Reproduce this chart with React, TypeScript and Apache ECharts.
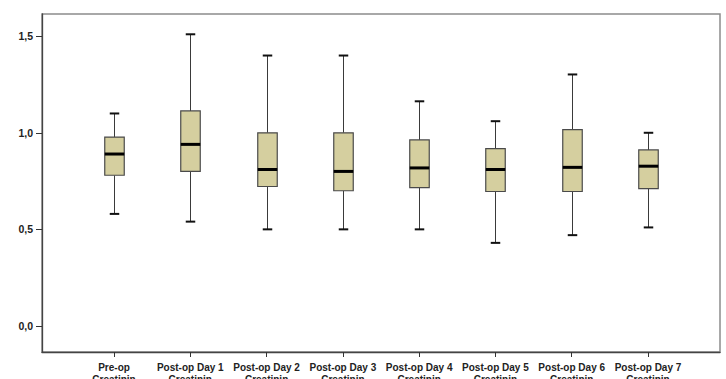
import React, { useEffect, useRef } from "react";
import * as echarts from "echarts";

const categories = [
  "Pre-op\nCreatinin",
  "Post-op Day 1\nCreatinin",
  "Post-op Day 2\nCreatinin",
  "Post-op Day 3\nCreatinin",
  "Post-op Day 4\nCreatinin",
  "Post-op Day 5\nCreatinin",
  "Post-op Day 6\nCreatinin",
  "Post-op Day 7\nCreatinin",
];
const lowWhisker = [0.58, 0.54, 0.5, 0.5, 0.5, 0.43, 0.47, 0.51];
const q1 = [0.78, 0.8, 0.722, 0.7, 0.716, 0.696, 0.696, 0.711];
const median = [0.89, 0.94, 0.81, 0.8, 0.818, 0.81, 0.821, 0.827];
const q3 = [0.978, 1.113, 1.0, 1.0, 0.963, 0.918, 1.016, 0.911];
const highWhisker = [1.1, 1.51, 1.4, 1.4, 1.163, 1.06, 1.302, 1.0];
const yTickValues = [0, 0.5, 1.0, 1.5];
const yRange = { min: -0.135, max: 1.615 };
const xRange = { min: -0.944, max: 7.944 };

const FONT = "'Liberation Sans', Arial, sans-serif";

export default function App() {
  const ref = useRef<HTMLDivElement>(null);
  useEffect(() => {
    if (!ref.current) return;
    const chart = echarts.init(ref.current, null, { renderer: "svg" });
    const data = categories.map((_, i) => [
      i,
      lowWhisker[i],
      q1[i],
      median[i],
      q3[i],
      highWhisker[i],
    ]);
    const catIdx = categories.map((_, i) => i);
    const boxW = 19.5;
    const capW = 9.5;
    chart.setOption({
      animation: false,
      backgroundColor: "#ffffff",
      grid: {
        left: 42,
        right: 6,
        top: 14,
        bottom: 27,
        containLabel: false,
        outerBoundsMode: "none",
        show: true,
        borderColor: "#8c8c8c",
        borderWidth: 1.5,
        backgroundColor: "transparent",
      },
      xAxis: {
        type: "value",
        min: xRange.min,
        max: xRange.max,
        axisLine: {
          show: true,
          onZero: false,
          lineStyle: { color: "#444", width: 1.3 },
        },
        axisTick: {
          show: true,
          length: 5,
          customValues: catIdx,
          lineStyle: { color: "#333", width: 1 },
        },
        axisLabel: {
          customValues: catIdx,
          margin: 9,
          fontFamily: FONT,
          fontWeight: "bold",
          fontSize: 10,
          lineHeight: 12,
          color: "#222",
          formatter: (v: number) => categories[Math.round(v)] ?? "",
        },
        splitLine: { show: false },
      },
      yAxis: {
        type: "value",
        min: yRange.min,
        max: yRange.max,
        axisLine: {
          show: true,
          onZero: false,
          lineStyle: { color: "#444", width: 1.3 },
        },
        axisTick: {
          show: true,
          length: 6,
          customValues: yTickValues,
          lineStyle: { color: "#333", width: 1 },
        },
        axisLabel: {
          customValues: yTickValues,
          margin: 9,
          fontFamily: FONT,
          fontWeight: "bold",
          fontSize: 10.5,
          color: "#222",
          formatter: (v: number) => v.toFixed(1).replace(".", ","),
        },
        splitLine: { show: false },
      },
      series: [
        {
          type: "custom",
          data,
          encode: { x: 0, y: [1, 2, 3, 4, 5] },
          renderItem: (params: any, api: any) => {
            const x = api.value(0);
            const pLow = api.coord([x, api.value(1)]);
            const pQ1 = api.coord([x, api.value(2)]);
            const pMed = api.coord([x, api.value(3)]);
            const pQ3 = api.coord([x, api.value(4)]);
            const pHigh = api.coord([x, api.value(5)]);
            const cx = Math.round(pLow[0]) + 0.5;
            const whisker = { stroke: "#3a3a3a", lineWidth: 1 };
            const cap = { stroke: "#111", lineWidth: 2 };
            return {
              type: "group",
              children: [
                {
                  type: "line",
                  shape: { x1: cx, y1: pLow[1], x2: cx, y2: pQ1[1] },
                  style: whisker,
                },
                {
                  type: "line",
                  shape: { x1: cx, y1: pQ3[1], x2: cx, y2: pHigh[1] },
                  style: whisker,
                },
                {
                  type: "line",
                  shape: {
                    x1: cx - capW / 2,
                    y1: pLow[1],
                    x2: cx + capW / 2,
                    y2: pLow[1],
                  },
                  style: cap,
                },
                {
                  type: "line",
                  shape: {
                    x1: cx - capW / 2,
                    y1: pHigh[1],
                    x2: cx + capW / 2,
                    y2: pHigh[1],
                  },
                  style: cap,
                },
                {
                  type: "rect",
                  shape: {
                    x: cx - boxW / 2,
                    y: pQ3[1],
                    width: boxW,
                    height: pQ1[1] - pQ3[1],
                  },
                  style: { fill: "#d5cf9f", stroke: "#4a4a4a", lineWidth: 1.2 },
                },
                {
                  type: "line",
                  shape: {
                    x1: cx - boxW / 2,
                    y1: pMed[1],
                    x2: cx + boxW / 2,
                    y2: pMed[1],
                  },
                  style: { stroke: "#000", lineWidth: 3 },
                },
              ],
            };
          },
        },
      ],
    });
    return () => chart.dispose();
  }, []);
  return (
    <div
      ref={ref}
      style={{ position: "fixed", left: 0, top: 0, width: 726, height: 379 }}
    />
  );
}
